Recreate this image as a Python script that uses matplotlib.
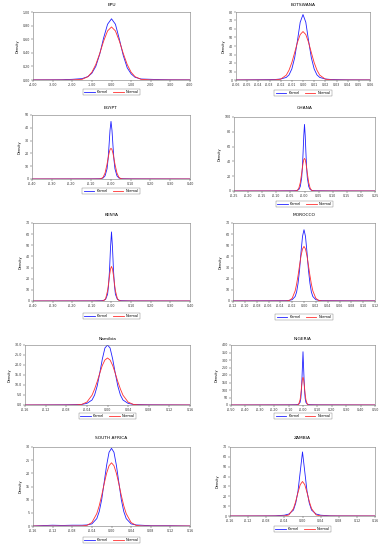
import matplotlib
matplotlib.use("Agg")
import matplotlib.pyplot as plt
from matplotlib.ticker import FormatStrFormatter
import numpy as np

# ---- data (kernel vs normal densities) ----
titles = ["EPU", "BOTSWANA", "EGYPT", "GHANA", "KENYA", "MOROCCO",
          "Namibia", "NIGERIA", "SOUTH AFRICA", "ZAMBIA"]

epu_x = [-4.0, -3.0, -2.5, -2.0, -1.5, -1.2, -1.0, -0.8, -0.6, -0.4, -0.2, 0.0,
         0.2, 0.4, 0.6, 0.8, 1.0, 1.2, 1.5, 2.0, 2.5, 3.0, 4.0]
epu_kernel = [0.002, 0.003, 0.004, 0.01, 0.02, 0.05, 0.10, 0.20, 0.38, 0.62, 0.82, 0.90,
              0.82, 0.60, 0.36, 0.18, 0.09, 0.04, 0.015, 0.01, 0.005, 0.003, 0.002]
epu_normal = [0, 0, 0, 0.0005, 0.010, 0.049, 0.114, 0.228, 0.39, 0.573, 0.722, 0.78,
              0.722, 0.573, 0.39, 0.228, 0.114, 0.049, 0.010, 0.0005, 0, 0, 0]

bw_x = [-0.06, -0.04, -0.03, -0.025, -0.02, -0.015, -0.0125, -0.01, -0.0075, -0.005, -0.0025, 0.0,
        0.0025, 0.005, 0.0075, 0.01, 0.0125, 0.015, 0.02, 0.025, 0.03, 0.04, 0.06]
bw_kernel = [0.1, 0.3, 0.4, 0.6, 1.2, 3.0, 6, 13, 26, 46, 68, 77,
             68, 46, 26, 13, 6, 3.0, 1.2, 0.6, 0.4, 0.2, 0.1]
bw_normal = [0, 0, 0, 0.1, 1.0, 5.7, 11.6, 20.5, 32.1, 44.2, 53.5, 57,
             53.5, 44.2, 32.1, 20.5, 11.6, 5.7, 1.0, 0.1, 0, 0, 0]

eg_x = [-0.4, -0.1, -0.06, -0.05, -0.04, -0.03, -0.02, -0.015, -0.01, -0.005, 0.0,
        0.005, 0.01, 0.015, 0.02, 0.03, 0.04, 0.05, 0.06, 0.1, 0.4]
eg_kernel = [0, 0.1, 0.2, 0.3, 0.8, 2.5, 8, 15, 26, 38, 45,
             38, 26, 15, 8, 2.5, 0.8, 0.3, 0.2, 0.1, 0]
eg_normal = [0, 0, 0.03, 0.26, 1.3, 4.7, 11.6, 16.0, 20.0, 22.9, 24,
             22.9, 20.0, 16.0, 11.6, 4.7, 1.3, 0.26, 0.03, 0, 0]

gh_x = [-0.25, -0.1, -0.04, -0.03, -0.025, -0.02, -0.015, -0.01, -0.0075, -0.005, -0.0025, 0.0,
        0.0025, 0.005, 0.0075, 0.01, 0.015, 0.02, 0.025, 0.03, 0.04, 0.1, 0.25]
gh_kernel = [0, 0.1, 0.3, 0.5, 1.0, 2, 6, 18, 32, 52, 75, 90,
             75, 52, 32, 18, 6, 2, 1.0, 0.5, 0.3, 0.1, 0]
gh_normal = [0, 0, 0, 0.2, 1.0, 3.9, 11.2, 24, 31.2, 37.8, 42.4, 44,
             42.4, 37.8, 31.2, 24, 11.2, 3.9, 1.0, 0.2, 0, 0, 0]

ke_x = [-0.4, -0.1, -0.05, -0.04, -0.03, -0.02, -0.015, -0.01, -0.005, 0.0,
        0.005, 0.01, 0.015, 0.02, 0.03, 0.04, 0.05, 0.1, 0.4]
ke_kernel = [0, 0.1, 0.3, 0.6, 1.5, 6, 14, 28, 48, 62,
             48, 28, 14, 6, 1.5, 0.6, 0.3, 0.1, 0]
ke_normal = [0, 0, 0, 0.25, 2.0, 9.2, 15.7, 22.9, 28.7, 31,
             28.7, 22.9, 15.7, 9.2, 2.0, 0.25, 0, 0, 0]

mo_x = [-0.12, -0.06, -0.03, -0.025, -0.02, -0.015, -0.0125, -0.01, -0.0075, -0.005, -0.0025, 0.0,
        0.0025, 0.005, 0.0075, 0.01, 0.0125, 0.015, 0.02, 0.025, 0.03, 0.06, 0.12]
mo_kernel = [0.1, 0.2, 0.3, 0.6, 1.2, 4, 8, 16, 28, 44, 58, 64,
             58, 44, 28, 16, 8, 4, 1.2, 0.6, 0.3, 0.2, 0.1]
mo_normal = [0, 0, 0.05, 0.44, 2.4, 9.0, 15.1, 23, 32.0, 40.6, 46.7, 49,
             46.7, 40.6, 32.0, 23, 15.1, 9.0, 2.4, 0.44, 0.05, 0, 0]

na_x = [-0.16, -0.08, -0.06, -0.05, -0.04, -0.03, -0.025, -0.02, -0.015, -0.01, -0.005, 0.0,
        0.005, 0.01, 0.015, 0.02, 0.025, 0.03, 0.04, 0.05, 0.06, 0.08, 0.16]
na_kernel = [0, 0.1, 0.2, 0.3, 0.8, 2.5, 5, 9.5, 16, 23, 28.5, 30,
             28.5, 23, 16, 9.5, 5, 2.5, 0.8, 0.3, 0.2, 0.1, 0]
na_normal = [0, 0, 0.05, 0.3, 1.46, 4.9, 8.0, 11.7, 15.9, 19.8, 22.5, 23.5,
             22.5, 19.8, 15.9, 11.7, 8.0, 4.9, 1.46, 0.3, 0.05, 0, 0]

ng_x = [-0.5, -0.1, -0.05, -0.04, -0.03, -0.02, -0.015, -0.01, -0.005, 0.0,
        0.005, 0.01, 0.015, 0.02, 0.03, 0.04, 0.05, 0.1, 0.5]
ng_kernel = [0, 1, 2, 3, 6, 18, 45, 110, 230, 355,
             230, 110, 45, 18, 6, 3, 2, 1, 0]
ng_normal = [0, 0, 0, 0.25, 4.5, 36, 73, 122, 167, 185,
             167, 122, 73, 36, 4.5, 0.25, 0, 0, 0]

sa_x = [-0.16, -0.12, -0.1, -0.08, -0.06, -0.05, -0.04, -0.03, -0.025, -0.02, -0.015, -0.01, -0.005, 0.0,
        0.005, 0.01, 0.015, 0.02, 0.025, 0.03, 0.04, 0.05, 0.06, 0.08, 0.12, 0.16]
sa_kernel = [0, 0.3, 0.2, 0.3, 0.3, 0.4, 0.8, 2.8, 5.5, 10, 16.5, 23, 28, 29.5,
             28, 23, 16.5, 10, 5.5, 2.8, 0.8, 0.4, 0.3, 0.1, 0.1, 0]
sa_normal = [0, 0, 0, 0, 0.03, 0.26, 1.3, 4.7, 7.7, 11.6, 16.0, 20.0, 22.9, 24,
             22.9, 20.0, 16.0, 11.6, 7.7, 4.7, 1.3, 0.26, 0.03, 0, 0, 0]

za_x = [-0.16, -0.08, -0.06, -0.04, -0.03, -0.02, -0.015, -0.01, -0.005, 0.0,
        0.005, 0.01, 0.015, 0.02, 0.03, 0.04, 0.06, 0.08, 0.16]
za_kernel = [0, 0.1, 0.2, 0.8, 2, 6, 13, 25, 45, 65,
             45, 25, 13, 6, 2, 0.8, 0.2, 0.1, 0]
za_normal = [0, 0, 0, 0.07, 1.1, 7.5, 14.7, 23.8, 31.8, 35,
             31.8, 23.8, 14.7, 7.5, 1.1, 0.07, 0, 0, 0]

xs = [epu_x, bw_x, eg_x, gh_x, ke_x, mo_x, na_x, ng_x, sa_x, za_x]
kernels = [epu_kernel, bw_kernel, eg_kernel, gh_kernel, ke_kernel,
           mo_kernel, na_kernel, ng_kernel, sa_kernel, za_kernel]
normals = [epu_normal, bw_normal, eg_normal, gh_normal, ke_normal,
           mo_normal, na_normal, ng_normal, sa_normal, za_normal]

# axis limits / tick steps
x_lims = [(-4, 4, 1.0), (-0.06, 0.06, 0.01), (-0.4, 0.4, 0.1), (-0.25, 0.25, 0.05),
          (-0.4, 0.4, 0.1), (-0.12, 0.12, 0.02), (-0.16, 0.16, 0.04), (-0.5, 0.5, 0.1),
          (-0.16, 0.16, 0.04), (-0.16, 0.16, 0.04)]
y_lims = [(0, 1.0, 0.2), (0, 80, 10), (0, 50, 10), (0, 100, 20), (0, 70, 10),
          (0, 70, 10), (0, 30, 5), (0, 400, 50), (0, 30, 5), (0, 70, 10)]
y_fmt = ["%.2f", "%d", "%d", "%d", "%d", "%d", "%.1f", "%d", "%d", "%d"]

# pixel boxes (x0, top, x1, bottom) of each plot area, 384x550 canvas
boxes = [(33, 12, 190, 80), (236, 12, 370, 80), (32, 115, 190, 179), (234, 117, 375, 191),
         (33, 223, 190, 301), (233, 223, 375, 301), (25, 345, 190, 405), (231, 345, 375, 405),
         (33, 447, 190, 526), (230, 447, 375, 516)]
legend_y = [92, 93, 191, 204, 316, 317, 416, 416, 540, 529]
title_y = [5, 5, 108, 108, 215, 215, 339, 339, 438, 438]

W, H = 384, 550
fig = plt.figure(figsize=(W / 100, H / 100), dpi=100)
fig.patch.set_facecolor("white")

for i in range(10):
    x0, top, x1, bot = boxes[i]
    ax = fig.add_axes([x0 / W, 1 - bot / H, (x1 - x0) / W, (bot - top) / H])
    lk, = ax.plot(xs[i], kernels[i], color="#2020ff", lw=0.6, label="Kernel")
    ln, = ax.plot(xs[i], normals[i], color="#ff3030", lw=0.6, label="Normal")

    a, b, s = x_lims[i]
    ax.set_xlim(a, b)
    ax.set_xticks(np.arange(a, b + s / 2, s))
    ax.xaxis.set_major_formatter(FormatStrFormatter("%.2f"))
    ya, yb, ys = y_lims[i]
    ax.set_ylim(ya, yb)
    ax.set_yticks(np.arange(ya, yb + ys / 2, ys))
    ax.yaxis.set_major_formatter(FormatStrFormatter(y_fmt[i]))

    ax.tick_params(labelsize=2.3, length=1.2, width=0.3, pad=1, colors="#333333")
    for sp in ax.spines.values():
        sp.set_linewidth(0.4)
        sp.set_color("#777777")
    ax.set_ylabel("Density", fontsize=2.5, labelpad=2)

    cx = (x0 + x1) / 2 / W
    fig.text(cx, 1 - title_y[i] / H, titles[i], ha="center", va="center", fontsize=3.2)
    fig.legend(handles=[lk, ln], loc="center", ncol=2,
               bbox_to_anchor=(cx, 1 - legend_y[i] / H), fontsize=2.5,
               frameon=True, fancybox=False, edgecolor="#555555",
               handlelength=3, columnspacing=1.5, borderpad=0.4,
               handletextpad=0.6).get_frame().set_linewidth(0.3)

fig.savefig("out.png", dpi=100)
